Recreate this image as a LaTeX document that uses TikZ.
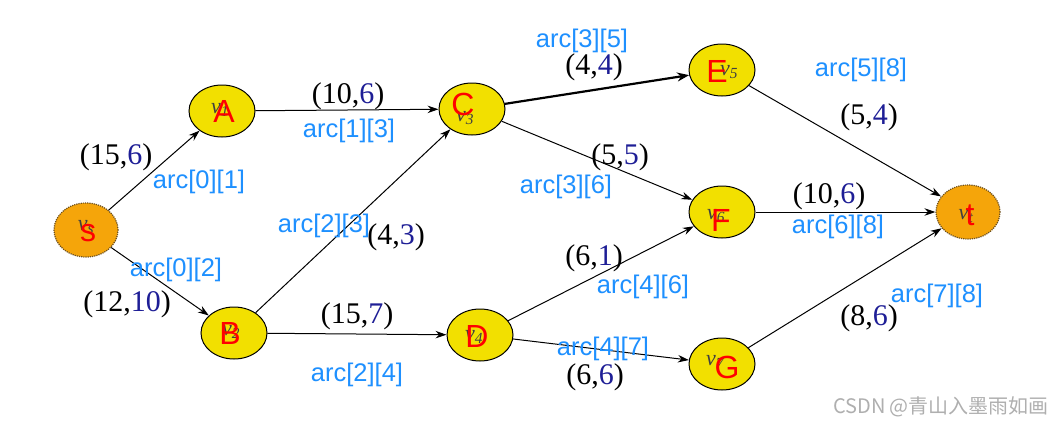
\documentclass[tikz,border=0pt]{standalone}
\usepackage{fontspec}
\setmainfont{Liberation Serif}
\setsansfont{Liberation Sans}
\newfontfamily\cjk{Noto Sans CJK SC}
\usetikzlibrary{shapes.geometric,arrows.meta}
\definecolor{nodeyellow}{RGB}{242,224,0}
\definecolor{nodeorange}{RGB}{245,165,10}
\definecolor{dotborder}{RGB}{110,80,30}
\definecolor{navydigit}{RGB}{30,30,150}
\definecolor{arcblue}{RGB}{30,144,255}
\definecolor{wmgray}{RGB}{175,175,175}
\newcommand{\pr}[2]{(#1,\textcolor{navydigit}{#2})}
\tikzset{
  vnode/.style={ellipse, draw=black, line width=1pt, fill=nodeyellow, minimum width=66pt, minimum height=52pt, inner sep=0pt},
  endnode/.style={ellipse, draw=dotborder, densely dotted, line width=1.2pt, fill=nodeorange, minimum width=64pt, minimum height=54pt, inner sep=0pt},
  vlab/.style={font=\fontsize{22}{24}\selectfont\itshape, text=black!75, inner sep=0pt},
  redlab/.style={font=\sffamily\fontsize{32}{34}\selectfont, text=red, inner sep=0pt},
  pairlab/.style={font=\fontsize{30}{32}\selectfont, text=black, inner sep=0pt},
  arclab/.style={font=\sffamily\fontsize{25.5}{27}\selectfont, text=arcblue, inner sep=0pt},
  edge/.style={draw=black, line width=1pt, -{Stealth[length=11pt,width=7.5pt]}},
  thickedge/.style={draw=black, line width=2.2pt, -{Stealth[length=12pt,width=9pt]}},
}
\begin{document}
\begin{tikzpicture}[x=1pt,y=-1pt]
\useasboundingbox[fill=white] (0,0) rectangle (1058,424);
% nodes
\node[endnode] (s) at (86,230) {};
\node[vnode] (A) at (222,111) {};
\node[vnode] (B) at (234,333) {};
\node[vnode] (C) at (472,109) {};
\node[vnode] (D) at (480,335) {};
\node[vnode] (E) at (722,70) {};
\node[vnode] (F) at (722,212) {};
\node[vnode] (G) at (722,364) {};
\node[endnode] (t) at (968,212) {};
% underlying v labels
\node[vlab] (vs) at (86,227) {v\textsubscript{s}};
\node[vlab] (v1) at (220,110) {v\textsubscript{1}};
\node[vlab] (v2) at (231,332) {v\textsubscript{2}};
\node[vlab] (v3) at (465,118) {v\textsubscript{3}};
\node[vlab] (v4) at (474,337) {v\textsubscript{4}};
\node[vlab] (v5) at (729,72) {v\textsubscript{5}};
\node[vlab] (v6) at (716,216) {v\textsubscript{6}};
\node[vlab] (v7) at (715,362) {v\textsubscript{7}};
\node[vlab] (vt) at (966,216) {v\textsubscript{t}};
% red letters
\node[redlab] (ls) at (88,233) {s};
\node[redlab] (lA) at (224,111) {A};
\node[redlab] (lB) at (230,333) {B};
\node[redlab] (lC) at (463,104) {C};
\node[redlab] (lD) at (477,336) {D};
\node[redlab] (lE) at (717,71) {E};
\node[redlab] (lF) at (721,220) {F};
\node[redlab] (lG) at (727,367) {G};
\node[redlab] (lt) at (970,215) {t};
% edges
\draw[edge] (s) -- (A);
\draw[edge] (s) -- (B);
\draw[edge] (A) -- (C);
\draw[edge] (B) -- (C);
\draw[edge] (B) -- (D);
\draw[thickedge] (C) -- (E);
\draw[edge] (C) -- (F);
\draw[edge] (D) -- (F);
\draw[edge] (D) -- (G);
\draw[edge] (E) -- (t);
\draw[edge] (F) -- (t);
\draw[edge] (G) -- (t);
% pair labels
\node[pairlab] (p01) at (116,157) {\pr{15}{6}};
\node[pairlab] (p02) at (127,304) {\pr{12}{10}};
\node[pairlab] (p13) at (348,96) {\pr{10}{6}};
\node[pairlab] (p23) at (396,237) {\pr{4}{3}};
\node[pairlab] (p24) at (357,316) {\pr{15}{7}};
\node[pairlab] (p35) at (594,67) {\pr{4}{4}};
\node[pairlab] (p36) at (620,157) {\pr{5}{5}};
\node[pairlab] (p46) at (594,258) {\pr{6}{1}};
\node[pairlab] (p47) at (595,377) {\pr{6}{6}};
\node[pairlab] (p58) at (869,117) {\pr{5}{4}};
\node[pairlab] (p68) at (829,196) {\pr{10}{6}};
\node[pairlab] (p78) at (869,318) {\pr{8}{6}};
% arc labels
\node[arclab] (a01) at (199,182) {arc[0][1]};
\node[arclab] (a02) at (176,270) {arc[0][2]};
\node[arclab] (a13) at (349,131) {arc[1][3]};
\node[arclab] (a23) at (324,226) {arc[2][3]};
\node[arclab] (a24) at (357,375) {arc[2][4]};
\node[arclab] (a35) at (582,41) {arc[3][5]};
\node[arclab] (a36) at (566,187) {arc[3][6]};
\node[arclab] (a46) at (643,287) {arc[4][6]};
\node[arclab] (a47) at (603,349) {arc[4][7]};
\node[arclab] (a58) at (861,70) {arc[5][8]};
\node[arclab] (a68) at (838,227) {arc[6][8]};
\node[arclab] (a78) at (937,296) {arc[7][8]};
% watermark
\node[font=\cjk\fontsize{20}{22}\selectfont, text=wmgray, inner sep=0pt] (wm) at (941,407) {CSDN @青山入墨雨如画};
\end{tikzpicture}
\end{document}
